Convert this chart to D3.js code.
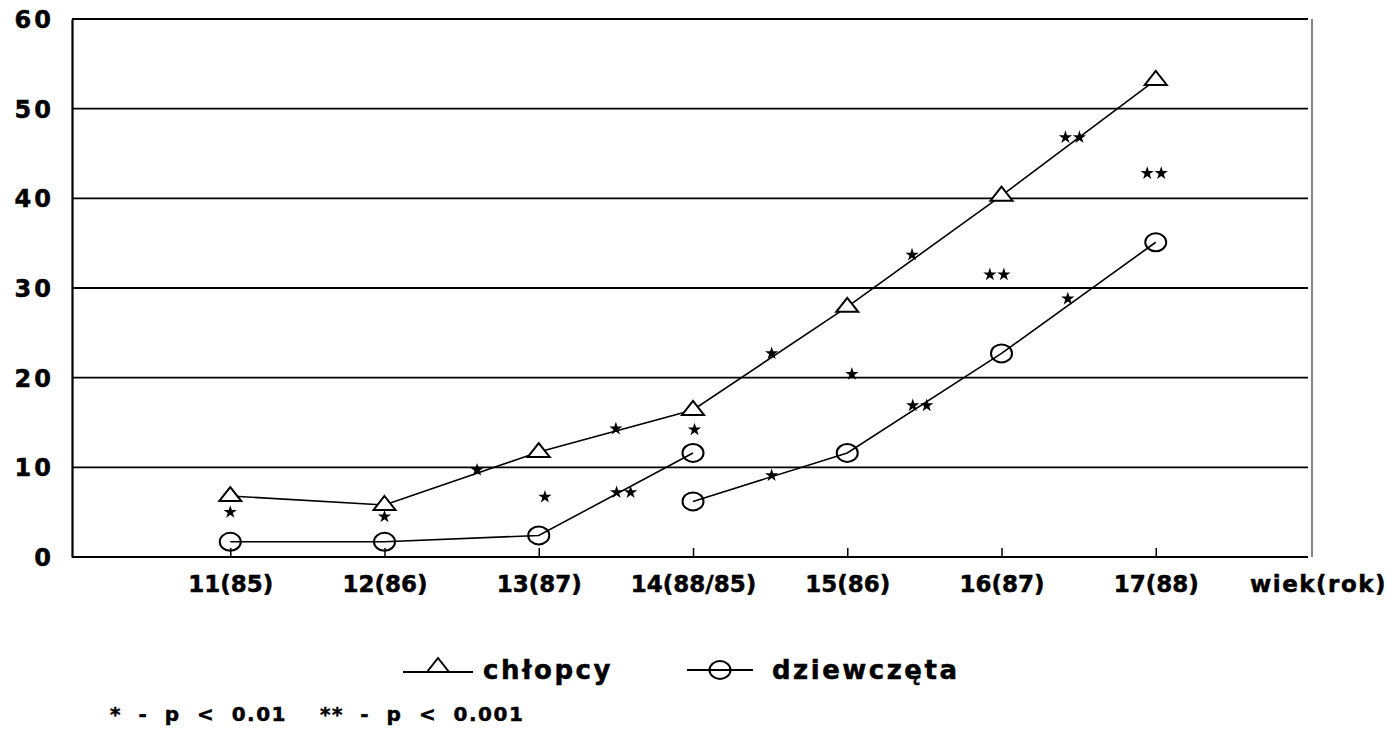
<!DOCTYPE html>
<html>
<head>
<meta charset="utf-8">
<script src="https://cdn.jsdelivr.net/npm/d3@7"></script>
<style>
  body { margin: 0; background: #fff; }
  text { font-family: "DejaVu Sans", sans-serif; font-weight: bold; fill: #000; stroke: #000; stroke-width: 0.5px; }
</style>
</head>
<body>
<div id="container"></div>
<script>
/* DATA */
const categories = ["11(85)", "12(86)", "13(87)", "14(88/85)", "15(86)", "16(87)", "17(88)"];
const boys = [6.8, 5.8, 11.7, 16.4, 27.9, 40.3, 53.2];       // chłopcy, 11..17
const girlsA = [1.7, 1.7, 2.4, 11.6];                        // dziewczęta, first cohort, 11..14
const girlsB = [6.2, 11.6, 22.7, 35.1];                      // dziewczęta, second cohort, 14..17
const yTicks = [0, 10, 20, 30, 40, 50, 60];

// significance marks: position on category axis, value, number of asterisks
const starPos = [0, 1, 1.6, 2.04, 2.5, 2.55, 3.01, 3.51, 3.51, 4.03, 4.42, 4.47, 4.97, 5.43, 5.46, 5.99];
const starVal = [5.0, 4.5, 9.7, 6.7, 14.3, 7.2, 14.2, 22.7, 9.1, 20.4, 33.7, 16.9, 31.5, 28.8, 46.8, 42.8];
const starNum = [1, 1, 1, 1, 1, 2, 1, 1, 1, 1, 1, 2, 2, 1, 2, 2];

/* CONSTANTS */
const width = 1396, height = 734;

const svg = d3.select("#container").append("svg")
  .attr("width", width)
  .attr("height", height);

// SCALES
const xScale = d3.scaleLinear().domain([-1, 7]).range([76, 1310]);
const yScale = d3.scaleLinear().domain([0, 60]).range([557, 19]);

// GRID LINES
svg.append("g")
  .selectAll("line")
  .data(yTicks)
  .join("line")
  .attr("x1", 72)
  .attr("x2", 1308)
  .attr("y1", d => yScale(d))
  .attr("y2", d => yScale(d))
  .attr("stroke", "#000")
  .attr("stroke-width", 1.8);

// right frame line
svg.append("line")
  .attr("x1", 1312).attr("x2", 1312)
  .attr("y1", yScale(60)).attr("y2", yScale(0))
  .attr("stroke", "#333")
  .attr("stroke-width", 1.2);

// Y AXIS
const yAxis = d3.axisLeft(yScale).tickValues(yTicks).tickSize(0).tickPadding(18);
const gy = svg.append("g")
  .attr("transform", `translate(72,0)`)
  .call(yAxis);
gy.select(".domain").attr("stroke", "#000").attr("stroke-width", 2.2);
gy.selectAll("text")
  .style("font-size", "24px")
  .style("letter-spacing", "3px")
  .attr("dy", "0.36em");

// X AXIS
const xAxis = d3.axisBottom(xScale)
  .tickValues(d3.range(categories.length + 1))
  .tickFormat(i => i < categories.length ? categories[i] : "wiek(rok)")
  .tickSizeInner(-9)
  .tickSizeOuter(0)
  .tickPadding(22);
const gx = svg.append("g")
  .attr("transform", `translate(0,${yScale(0)})`)
  .call(xAxis);
gx.select(".domain").remove();
gx.selectAll(".tick line").attr("stroke", "#000").attr("stroke-width", 1.5);
gx.selectAll(".tick").filter(d => d === categories.length).select("line").remove();
gx.selectAll("text")
  .style("font-size", "23px")
  .attr("dy", "0.55em");
gx.selectAll(".tick").filter(d => d === categories.length).select("text")
  .style("letter-spacing", "1.5px")
  .attr("x", 8);

// LINES
const lineGen = d3.line()
  .x(d => xScale(d[0]))
  .y(d => yScale(d[1]));

const boysPts = boys.map((v, i) => [i, v]);
const girlsAPts = girlsA.map((v, i) => [i, v]);
const girlsBPts = girlsB.map((v, i) => [i + 3, v]);

svg.selectAll("path.line")
  .data([boysPts, girlsAPts, girlsBPts])
  .join("path")
  .attr("class", "line")
  .attr("fill", "none")
  .attr("stroke", "#000")
  .attr("stroke-width", 1.6)
  .attr("d", d => lineGen(d));

// MARKERS
const triPath = "M0,-9 L11,5 L-11,5 Z";
svg.append("g")
  .selectAll("path")
  .data(boysPts)
  .join("path")
  .attr("transform", d => `translate(${xScale(d[0])},${yScale(d[1])})`)
  .attr("d", triPath)
  .attr("fill", "#fff")
  .attr("stroke", "#000")
  .attr("stroke-width", 2);

svg.append("g")
  .selectAll("ellipse")
  .data(girlsAPts.concat(girlsBPts))
  .join("ellipse")
  .attr("cx", d => xScale(d[0]))
  .attr("cy", d => yScale(d[1]))
  .attr("rx", 10.5)
  .attr("ry", 9)
  .attr("fill", "none")
  .attr("stroke", "#000")
  .attr("stroke-width", 2);

// ASTERISKS
const star = d3.symbol().type(d3.symbolStar).size(55);
const stars = [];
starPos.forEach((p, i) => {
  for (let k = 0; k < starNum[i]; k++) {
    const off = starNum[i] === 1 ? 0 : (k === 0 ? -7 : 7);
    stars.push({ x: xScale(p) + off, y: yScale(starVal[i]) });
  }
});
svg.append("g")
  .selectAll("path")
  .data(stars)
  .join("path")
  .attr("transform", d => `translate(${d.x},${d.y})`)
  .attr("d", star)
  .attr("fill", "#000");

// LEGEND
const leg = svg.append("g");
const legY = 670;
leg.append("line").attr("x1", 403).attr("x2", 473).attr("y1", legY + 2).attr("y2", legY + 2)
  .attr("stroke", "#000").attr("stroke-width", 2);
leg.append("path").attr("d", triPath)
  .attr("transform", `translate(438,${legY - 3})`)
  .attr("fill", "#fff").attr("stroke", "#000").attr("stroke-width", 2);
leg.append("text").attr("x", 483).attr("y", legY).attr("dy", "0.36em")
  .style("font-size", "26px").style("letter-spacing", "2.5px")
  .text("chłopcy");

leg.append("line").attr("x1", 687).attr("x2", 753).attr("y1", legY).attr("y2", legY)
  .attr("stroke", "#000").attr("stroke-width", 2);
leg.append("ellipse").attr("cx", 720).attr("cy", legY).attr("rx", 10.5).attr("ry", 9)
  .attr("fill", "none").attr("stroke", "#000").attr("stroke-width", 2);
leg.append("text").attr("x", 772).attr("y", legY).attr("dy", "0.36em")
  .style("font-size", "26px").style("letter-spacing", "2.5px")
  .text("dziewczęta");

// FOOTNOTE
svg.append("text")
  .attr("x", 110).attr("y", 714).attr("dy", "0.36em")
  .style("font-size", "20px").style("letter-spacing", "1.5px")
  .style("word-spacing", "8px")
  .style("white-space", "pre")
  .text("* - p < 0.01  ** - p < 0.001");
</script>
</body>
</html>
